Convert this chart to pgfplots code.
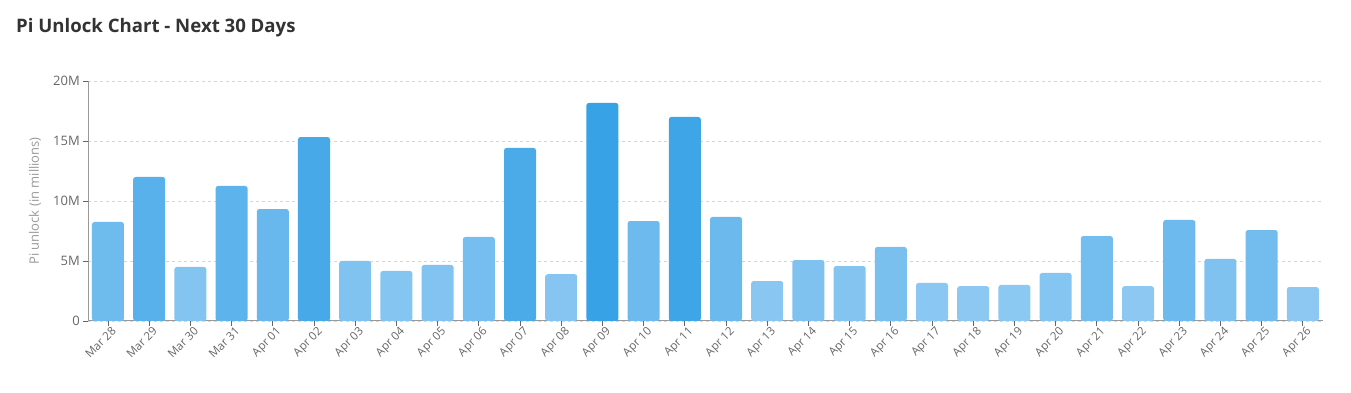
\documentclass[border=0pt]{standalone}
\usepackage{pgfplots}
\pgfplotsset{compat=1.18}
\usepackage{fontspec}
\setmainfont{Open Sans}
\definecolor{barD}{HTML}{37A2E6}
\definecolor{barL}{HTML}{8CC8F2}
\definecolor{titlec}{HTML}{333333}
\definecolor{tickc}{HTML}{666666}
\definecolor{axisc}{HTML}{999999}
\definecolor{gridc}{HTML}{D5D5D5}
\newcommand{\onebar}[3]{\addplot[fill=barD!#3!barL, draw=none, rounded corners=2.5pt] coordinates {(#1,#2)};}
\begin{document}
\begin{tikzpicture}
\path[use as bounding box] (0,0) rectangle (1351pt,393pt);
\node[anchor=base west, inner sep=0pt, text=titlec, font=\fontsize{18.6}{22}\selectfont\bfseries] at (16pt,360pt) {Pi Unlock Chart - Next 30 Days};
\begin{axis}[
  at={(88pt,72pt)}, anchor=south west,
  scale only axis, width=1235pt, height=240pt,
  xmin=-0.485, xmax=29.49, ymin=0, ymax=20,
  ybar, bar width=0.777, bar shift=0pt,
  axis x line*=bottom, axis y line*=left,
  axis line style={axisc, line width=1pt, -},
  xtick={0,...,29},
  xticklabels={Mar 28,Mar 29,Mar 30,Mar 31,Apr 01,Apr 02,Apr 03,Apr 04,Apr 05,Apr 06,Apr 07,Apr 08,Apr 09,Apr 10,Apr 11,Apr 12,Apr 13,Apr 14,Apr 15,Apr 16,Apr 17,Apr 18,Apr 19,Apr 20,Apr 21,Apr 22,Apr 23,Apr 24,Apr 25,Apr 26},
  ytick={0,5,10,15,20},
  yticklabels={0,5M,10M,15M,20M},
  tick align=outside, major tick length=5pt,
  tick style={tickc, line width=0.8pt},
  xticklabel style={rotate=45, anchor=north east, inner sep=1pt, xshift=3pt, yshift=-1pt, font=\fontsize{11.5}{12}\selectfont, text=tickc},
  yticklabel style={font=\fontsize{13}{14}\selectfont, text=tickc, inner sep=1pt, xshift=-2pt},
  ymajorgrids, grid style={gridc, line width=0.9pt, dash pattern=on 3pt off 3pt},
  ylabel={Pi unlock (in millions)},
  every axis y label/.style={at={(axis description cs:0,0.5)}, xshift=-53pt, rotate=90, anchor=center, font=\fontsize{13}{14}\selectfont, text=axisc},
  axis on top=false, clip=false,
]
\onebar{0}{8.25}{35}
\onebar{1}{12.0}{60}
\onebar{2}{4.5}{11}
\onebar{3}{11.25}{55}
\onebar{4}{9.33}{42}
\onebar{5}{15.33}{81}
\onebar{6}{5.0}{14}
\onebar{7}{4.17}{9}
\onebar{8}{4.67}{12}
\onebar{9}{7.0}{27}
\onebar{10}{14.42}{76}
\onebar{11}{3.9}{7}
\onebar{12}{18.17}{100}
\onebar{13}{8.33}{36}
\onebar{14}{17.0}{92}
\onebar{15}{8.67}{38}
\onebar{16}{3.33}{3}
\onebar{17}{5.08}{15}
\onebar{18}{4.58}{11}
\onebar{19}{6.17}{22}
\onebar{20}{3.17}{2}
\onebar{21}{2.9}{0}
\onebar{22}{3.0}{1}
\onebar{23}{4.0}{8}
\onebar{24}{7.08}{28}
\onebar{25}{2.9}{0}
\onebar{26}{8.42}{36}
\onebar{27}{5.17}{15}
\onebar{28}{7.58}{31}
\onebar{29}{2.83}{0}
\end{axis}
\end{tikzpicture}
\end{document}
